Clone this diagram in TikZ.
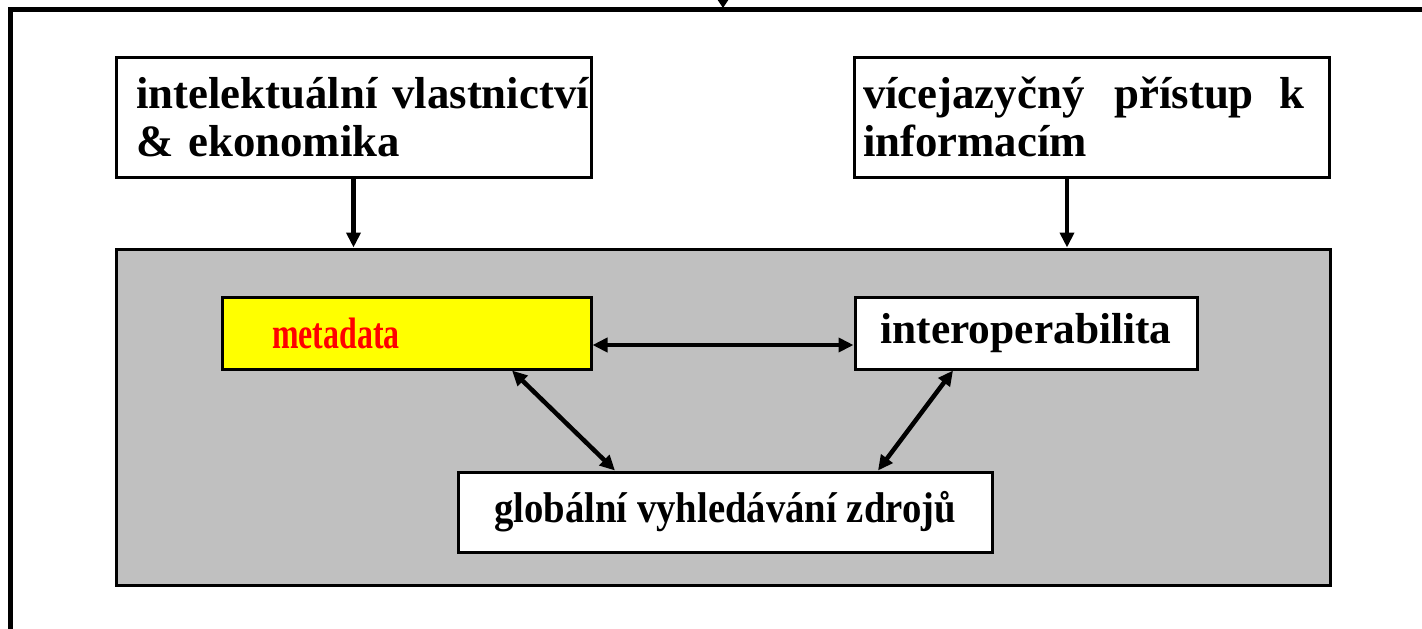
\documentclass[tikz,border=0pt]{standalone}
\usepackage{fontspec}
\setmainfont{Liberation Serif}
\newfontfamily\narrowserif[FakeStretch=0.725]{Liberation Serif}
\newfontfamily\slimserif[FakeStretch=0.9]{Liberation Serif}
\usetikzlibrary{arrows.meta}

\definecolor{panelgray}{RGB}{192,192,192}
\definecolor{metayellow}{RGB}{255,255,0}
\definecolor{metared}{RGB}{255,0,0}

\tikzset{
  box/.style={draw, line width=1.5pt, fill=white, inner sep=0pt},
  big/.style={font=\bfseries\fontsize{22.4}{24}\selectfont},
  link/.style={line width=2.25pt, -{Triangle[length=7.5pt,width=7pt]}},
  both/.style={line width=2.25pt, {Triangle[length=7.5pt,width=7pt]}-{Triangle[length=7.5pt,width=7pt]}}
}

\begin{document}
\begin{tikzpicture}[x=0.5pt,y=-0.5pt]
\useasboundingbox (0,0) rectangle (1422,628);

% frame
\draw [line width=2.5pt] (10.5,640) -- (10.5,9.5) -- (1440,9.5);
\coordinate (in) at (723,8);
\draw [line width=2pt, -{Triangle[length=4pt,width=5pt]}] (723,-40) -- (in);

% top boxes
\node [box, big, minimum height=60pt, inner xsep=10pt, text width=217.5pt, align=left]
  (ipr) at (353.5,117) {\mbox{intelektuální vlastnictví}\\\mbox{\& ekonomika}};
\node [box, big, minimum height=60pt, inner xsep=4.5pt, text width=228.5pt, align=left]
  (lang) at (1091.5,117)
  {\mbox{vícejazyčný\hspace{15pt}přístup\hspace{13pt}k}\\informacím};

% gray panel
\node [draw, line width=1.5pt, fill=panelgray, minimum width=607pt,
  minimum height=168pt] (core) at (723,417) {};

\node [box, fill=metayellow, text=metared, minimum height=36pt,
  inner xsep=25pt, text width=134.5pt, align=left,
  font=\narrowserif\bfseries\fontsize{22}{24}\selectfont]
  (meta) at (406.5,333) {metadata};
\node [box, minimum width=171pt, minimum height=36pt,
  font=\bfseries\fontsize{21.7}{24}\selectfont] (interop) at (1026,333)
  {interoperabilita};
\node [box, minimum width=267pt, minimum height=40pt,
  font=\slimserif\bfseries\fontsize{21.5}{24}\selectfont] (search) at (725,512)
  {globální vyhledávání zdrojů};

% arrows
\draw [link] (ipr.south) -- (ipr.south |- core.north);
\draw [link] ([xshift=-12.25pt]lang.south) -- ([xshift=-12.25pt]lang.south |- core.north);
\draw [both] ([yshift=-6pt]meta.east) -- ([yshift=-6pt]interop.west);
\draw [both] ([xshift=52.75pt]meta.south) -- ([xshift=-55pt]search.north);
\draw [both] ([xshift=-36.5pt]interop.south) -- ([xshift=76.5pt]search.north);
\end{tikzpicture}
\end{document}
